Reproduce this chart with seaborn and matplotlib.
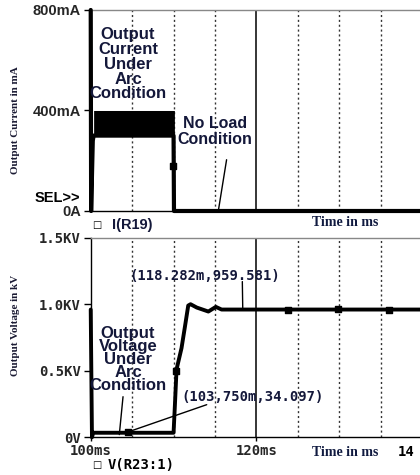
import matplotlib
matplotlib.use("Agg")
import matplotlib.pyplot as plt
import seaborn as sns
import pandas as pd

# ---- data ----
cur_t = [100.0, 100.05, 100.25, 100.35, 110.0, 110.05, 141.0]
cur_mA = [800, 0, 280, 300, 300, 0, 0]
band_t = [100.35, 110.1]
band_lo = [300, 305]
band_hi = [400, 400]
cur_mark_t = [109.95]
cur_mark_v = [180]

volt_t = [100.0, 100.15, 100.3, 110.0, 110.16, 110.36, 110.96, 111.37, 111.77, 112.05,
          112.8, 114.2, 115.1, 115.8, 118.28, 141.0]
volt_kV = [0.96, 0.0, 0.034, 0.034, 0.24, 0.51, 0.67, 0.83, 0.99, 1.0,
           0.975, 0.945, 0.98, 0.96, 0.96, 0.96]
volt_mark_t = [104.5, 110.3, 123.8, 129.8, 136.0]
volt_mark_v = [0.04, 0.5, 0.955, 0.965, 0.955]

grid_dotted = [105, 110, 115, 125, 130, 135]
grid_solid = [120]
cur_ticks = [0, 400, 800]
cur_labels = ["0A", "400mA", "800mA"]
volt_ticks = [0, 0.5, 1.0, 1.5]
volt_labels = ["0V", "0.5KV", "1.0KV", "1.5KV"]
x_ticks = [100, 120, 140]
x_labels = ["100ms", "120ms", ""]

sns.set_theme(style="white")
plt.rcParams['font.family'] = ['DejaVu Sans']

fig = plt.figure(figsize=(4.2, 4.75), dpi=100)
ax1 = fig.add_axes([0.216, 0.5558, 0.789, 0.4232])
ax2 = fig.add_axes([0.216, 0.0794, 0.789, 0.4202])

txtc = "#14183a"
monofont = dict(family="DejaVu Sans Mono", weight="bold")

for ax in (ax1, ax2):
    ax.set_xlim(100, 140)
    ax.set_facecolor("white")
    for g in grid_dotted:
        ax.axvline(g, color="#333333", lw=1.0, ls=(0, (1.5, 2)), zorder=1)
    for g in grid_solid:
        ax.axvline(g, color="black", lw=1.1, zorder=1)
    ax.spines["left"].set_color("black")
    ax.spines["left"].set_linewidth(1.0)
    ax.spines["bottom"].set_color("black")
    ax.spines["bottom"].set_linewidth(1.0)
    ax.spines["top"].set_color("#888888")
    ax.spines["top"].set_linewidth(1.0)
    ax.spines["right"].set_visible(False)

# ---- current plot ----
df_c = pd.DataFrame({"t": cur_t, "i": cur_mA})
sns.lineplot(data=df_c, x="t", y="i", ax=ax1, sort=False, estimator=None,
             color="black", lw=3.0, zorder=5, clip_on=False)
ax1.fill_between(band_t, band_lo, band_hi, color="black", lw=0, zorder=4)
ax1.scatter(cur_mark_t, cur_mark_v, marker="s", s=18, color="black", zorder=6)
ax1.set_ylim(0, 800)
ax1.set_yticks(cur_ticks)
ax1.set_yticklabels(cur_labels, fontsize=10.5, fontweight="bold", family="Liberation Sans")
ax1.set_xticks([])
ax1.tick_params(axis="y", direction="out", length=5, width=1, color="black", pad=2, left=True)
ax1.set_xlabel("")
ax1.set_ylabel("")

ax1.text(104.5, 584, "Output\nCurrent\nUnder\nArc\nCondition", ha="center", va="center",
         fontsize=12, fontweight="bold", family="Liberation Sans", color=txtc,
         linespacing=0.98, zorder=7)
ax1.text(115.0, 316, "No Load\nCondition", ha="center", va="center",
         fontsize=11.5, fontweight="bold", family="Liberation Sans", color=txtc,
         linespacing=1.05, zorder=7)
ax1.plot([116.4, 115.4], [204, 0], color="black", lw=1.0, zorder=6)

# ---- voltage plot ----
df_v = pd.DataFrame({"t": volt_t, "v": volt_kV})
sns.lineplot(data=df_v, x="t", y="v", ax=ax2, sort=False, estimator=None,
             color="black", lw=2.8, zorder=5, clip_on=False)
ax2.scatter(volt_mark_t, volt_mark_v, marker="s", s=16, color="black", zorder=6)
ax2.set_ylim(0, 1.5)
ax2.set_yticks(volt_ticks)
ax2.set_yticklabels(volt_labels, fontsize=10, **monofont)
ax2.set_xticks(x_ticks)
ax2.set_xticklabels(x_labels, fontsize=10, **monofont)
ax2.tick_params(axis="y", direction="out", length=5, width=1, color="black", pad=2, left=True)
ax2.tick_params(axis="x", direction="out", length=3, width=1, color="black", pad=2, bottom=True)
ax2.set_xlabel("")
ax2.set_ylabel("")

ax2.text(104.5, 0.585, "Output\nVoltage\nUnder\nArc\nCondition", ha="center", va="center",
         fontsize=12, fontweight="bold", family="Liberation Sans", color=txtc,
         linespacing=0.84, zorder=7)
ax2.plot([103.9, 103.45], [0.305, 0.02], color="black", lw=1.0, zorder=6)
ax2.text(111.0, 0.30, "(103,750m,34.097)", ha="left", va="center",
         fontsize=10, color=txtc, zorder=7, **monofont)
ax2.plot([114.0, 104.5], [0.245, 0.04], color="black", lw=1.0, zorder=6)
ax2.text(104.7, 1.215, "(118.282m,959.581)", ha="left", va="center",
         fontsize=10, color=txtc, zorder=7, **monofont)
ax2.plot([118.3, 118.35], [1.17, 0.97], color="black", lw=1.0, zorder=6)

# ---- figure texts ----
fig.text(398 / 420, 1 - 452 / 475, "14", ha="left", va="center", fontsize=10,
         color="black", **monofont)
fig.text(80 / 420, 1 - 198 / 475, "SEL>>", ha="right", va="center", fontsize=10.5,
         fontweight="bold", family="Liberation Sans", color="black")
fig.text(16 / 420, 1 - 120 / 475, "Output Current in mA", rotation=90, ha="center", va="center",
         fontsize=8, family="Liberation Serif", fontweight="bold", color="#1a1a33")
fig.text(16 / 420, 1 - 325 / 475, "Output Voltage in kV", rotation=90, ha="center", va="center",
         fontsize=8, family="Liberation Serif", fontweight="bold", color="#1a1a33")
fig.text(345 / 420, 1 - 222 / 475, "Time in ms", ha="center", va="center", fontsize=10,
         family="Liberation Serif", fontweight="bold", color="#101a40")
fig.text(345 / 420, 1 - 453 / 475, "Time in ms", ha="center", va="center", fontsize=10,
         family="Liberation Serif", fontweight="bold", color="#101a40")
fig.text(97 / 420, 1 - 225 / 475, "\u25a1", ha="center", va="center", fontsize=7, color="black")
fig.text(112 / 420, 1 - 225 / 475, "I(R19)", ha="left", va="center", fontsize=10.5,
         fontweight="bold", family="Liberation Sans", color=txtc)
fig.text(97 / 420, 1 - 465 / 475, "\u25a1", ha="center", va="center", fontsize=7, color="black")
fig.text(108 / 420, 1 - 465 / 475, "V(R23:1)", ha="left", va="center", fontsize=10,
         color="black", **monofont)

fig.savefig("out.png", dpi=100)
